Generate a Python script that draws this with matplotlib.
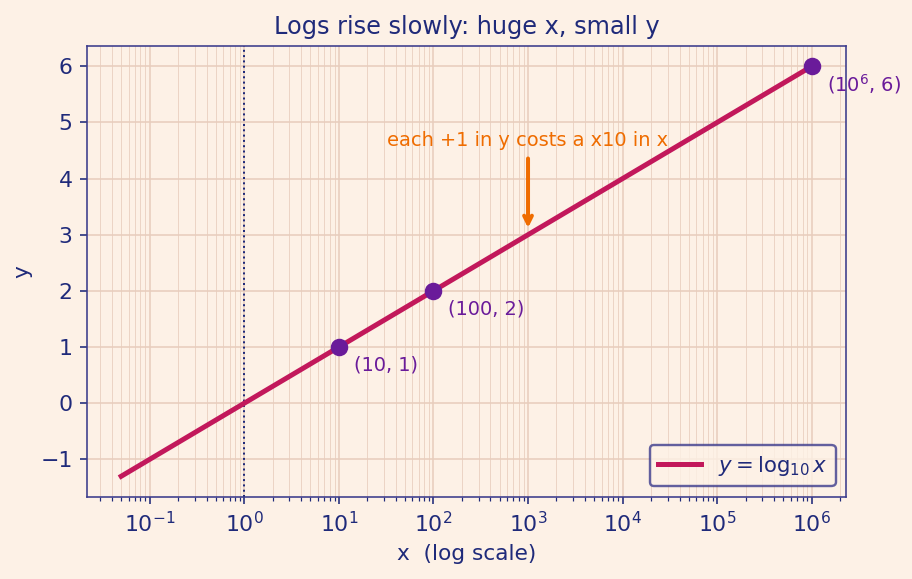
import numpy as np
import matplotlib.pyplot as plt

# data
x_start = 0.05
x_end = 1e6
n_points = 400
point_x = [10, 100, 1e6]
point_y = [1, 2, 6]
point_labels = ["(10, 1)", "(100, 2)", r"($10^6$, 6)"]

bg = "#fdf1e6"
navy = "#1f2a7a"
spine = "#3b3b8c"
gridc = "#e8cdbd"
crimson = "#c2185b"
purple = "#6a1b9a"
orange = "#ef6c00"

xs = np.logspace(np.log10(x_start), np.log10(x_end), n_points)
ys = np.log10(xs)

fig, ax = plt.subplots(figsize=(9.12 / 1.44, 5.79 / 1.44), dpi=144)
fig.patch.set_facecolor(bg)
ax.set_facecolor(bg)

ax.plot(xs, ys, color=crimson, lw=2.5, label=r"$y = \log_{10} x$", zorder=3)
ax.scatter(point_x, point_y, s=60, color=purple, zorder=4)
for px, py, lab in zip(point_x, point_y, point_labels):
    ax.annotate(lab, (px, py), xytext=(7.5, -9), textcoords="offset points",
                ha="left", va="center", color=purple, fontsize=9.7)

ax.axvline(1, color=navy, lw=1, ls=":", zorder=2)
ax.set_xscale("log")

ax.annotate("each +1 in y costs a x10 in x", xy=(1e3, 3.05), xytext=(1e3, 4.5),
            ha="center", va="bottom", color=orange, fontsize=9.7,
            arrowprops=dict(arrowstyle="->", color=orange, lw=2))

ax.grid(True, which="major", color=gridc, lw=0.8)
ax.grid(True, which="minor", color=gridc, lw=0.5, alpha=0.8)
ax.set_axisbelow(True)

ax.set_title("Logs rise slowly: huge x, small y", color=navy, fontsize=12)
ax.set_xlabel("x  (log scale)", color=navy, fontsize=10.8)
ax.set_ylabel("y", color=navy, fontsize=10.8)
ax.tick_params(colors=navy, labelsize=11, which="both")
for s in ax.spines.values():
    s.set_color(spine)

leg = ax.legend(loc="lower right", fontsize=10.6, frameon=True, facecolor=bg,
                edgecolor=spine, labelcolor=navy)
leg.get_frame().set_linewidth(1.2)

fig.subplots_adjust(left=0.095, right=0.928, top=0.921, bottom=0.142)
fig.savefig("out.png", dpi=144, facecolor=bg)
